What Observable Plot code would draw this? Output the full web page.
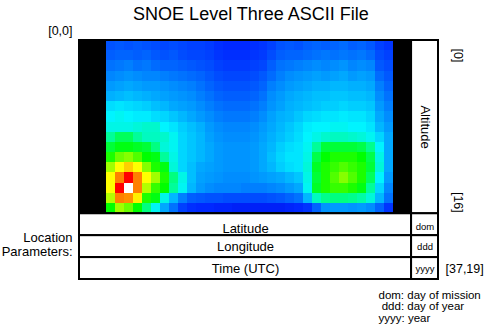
<!DOCTYPE html>
<html><head><meta charset="utf-8">
<script src="https://cdn.jsdelivr.net/npm/d3@7"></script>
<script src="https://cdn.jsdelivr.net/npm/@observablehq/plot@0.6"></script>
<style>body{margin:0;background:#fff}</style>
</head><body><div id="chart"></div>
<script>
const title = "SNOE Level Three ASCII File";
// NO density (arbitrary colour index 0-10), rows = altitude [0]..[16], columns = latitude bins
const density = [
[1.7,1.8,1.7,1.8,1.7,1.6,1.5,1.6,1.5,1.4,1.4,1.3,1.1,1.0,1.0,1.0,1.1,1.2,1.4,1.7,1.8,1.7,1.9,2.0,1.9,2.0,2.1,1.9,2.0,1.8,1.4,1.2],
[1.9,2.0,2.0,1.9,2.0,1.8,1.7,1.8,1.6,1.5,1.5,1.4,1.2,1.1,1.1,1.1,1.2,1.3,1.6,1.9,2.0,2.0,2.1,2.2,2.3,2.2,2.3,2.2,2.3,2.1,1.6,1.4],
[2.2,2.3,2.4,2.2,2.3,2.1,2.0,2.0,1.9,1.8,1.7,1.6,1.4,1.3,1.3,1.3,1.4,1.5,1.9,2.2,2.3,2.4,2.5,2.6,2.5,2.6,2.7,2.5,2.6,2.5,1.8,1.6],
[2.5,2.6,2.7,2.6,2.5,2.5,2.4,2.3,2.2,2.1,2.0,1.8,1.6,1.5,1.5,1.5,1.6,1.8,2.1,2.4,2.6,2.7,2.8,2.9,2.8,2.9,3.0,2.8,2.9,2.8,2.1,1.8],
[2.8,2.9,3.0,2.9,2.8,2.8,2.7,2.6,2.5,2.4,2.2,2.0,1.8,1.7,1.7,1.7,1.8,2.0,2.4,2.6,2.8,2.9,3.0,3.1,3.1,3.2,3.2,3.1,3.1,3.0,2.4,2.0],
[3.1,3.2,3.3,3.2,3.1,3.0,2.9,2.8,2.7,2.6,2.4,2.2,2.0,1.9,1.9,1.9,2.0,2.2,2.6,2.8,3.0,3.1,3.2,3.3,3.3,3.4,3.4,3.3,3.3,3.2,2.6,2.2],
[3.7,3.8,3.7,3.6,3.5,3.3,3.2,3.0,2.9,2.8,2.6,2.4,2.2,2.1,2.1,2.1,2.2,2.4,2.7,2.9,3.1,3.2,3.3,3.4,3.5,3.5,3.6,3.5,3.5,3.4,2.8,2.4],
[4.0,4.1,4.0,3.9,3.9,3.7,3.6,3.4,3.2,3.0,2.8,2.6,2.4,2.3,2.3,2.3,2.4,2.6,2.9,3.1,3.2,3.4,3.6,3.7,3.8,3.8,3.9,3.8,3.8,3.6,3.0,2.6],
[4.2,4.2,4.2,4.3,4.4,4.4,4.0,3.8,3.5,3.3,3.1,2.8,2.6,2.5,2.5,2.5,2.6,2.8,3.0,3.2,3.4,3.6,3.9,4.0,4.0,4.1,4.1,4.0,4.0,3.8,3.2,2.8],
[4.8,5.2,5.2,4.8,4.5,4.5,4.4,4.1,3.6,3.4,3.2,2.9,2.7,2.6,2.6,2.6,2.7,2.9,3.1,3.3,3.5,3.7,4.0,4.2,4.4,4.5,4.5,4.4,4.3,4.1,3.6,3.0],
[5.4,5.6,5.6,5.5,5.4,5.0,4.3,4.1,3.6,3.4,3.2,3.0,2.8,2.7,2.7,2.7,2.8,3.0,3.2,3.5,3.7,3.8,4.1,4.8,5.4,5.4,5.4,5.4,5.3,4.9,4.0,3.0],
[5.8,6.1,6.2,6.0,5.7,5.6,4.8,4.2,3.6,3.4,3.2,3.0,2.8,2.7,2.7,2.7,2.8,3.0,3.3,3.6,3.8,3.8,4.2,5.3,5.7,5.8,5.8,5.8,5.7,5.3,4.2,3.0],
[6.3,6.8,7.1,6.8,6.2,5.8,5.6,4.3,3.6,3.3,3.0,2.9,2.8,2.7,2.7,2.7,2.8,3.0,3.2,3.5,3.7,3.8,4.3,5.5,5.8,5.9,6.0,5.9,5.8,5.4,4.3,3.0],
[6.8,7.6,8.6,7.6,6.8,6.3,5.8,5.0,4.2,3.3,2.9,2.8,2.7,2.6,2.6,2.6,2.7,2.8,2.9,3.0,3.2,3.4,4.2,5.4,5.8,6.0,6.2,6.0,5.8,5.2,4.0,2.8],
[6.8,8.6,10,7.6,6.4,5.9,5.7,4.8,4.1,3.2,2.8,2.6,2.5,2.5,2.5,2.4,2.4,2.4,2.5,2.6,2.8,3.0,4.1,5.5,5.8,5.9,5.9,5.8,5.6,4.8,3.6,2.5],
[6.4,7.6,7.5,6.9,5.8,5.6,4.2,3.2,2.4,1.9,1.8,1.7,1.7,1.6,1.6,1.6,1.6,1.6,1.7,1.8,2.0,2.2,3.2,4.5,4.9,5.0,5.0,4.9,4.7,4.3,3.2,2.2],
[5.7,6.3,6.1,5.7,5.0,4.1,3.0,2.2,1.4,1.1,1.0,1.0,0.9,0.9,0.8,0.8,0.8,0.8,0.8,0.8,0.9,1.0,1.2,2.0,2.7,2.8,2.8,2.7,2.8,2.6,2.0,1.2]
];
const missingLeft = 3;   // fill (no data) latitude columns, drawn black
const missingRight = 2;
const locationParams = ["Latitude", "Longitude", "Time (UTC)"];
const locationCodes = ["dom", "ddd", "yyyy"];
const legendLines = ["dom: day of mission", "\u00a0ddd: day of year", "yyyy: year"];
const cornerLabels = ["[0,0]", "[37,19]"];
const altitudeTicks = ["[0]", "[16]"];
const sideLabel = "Altitude";
const locationLabel = "Location\nParameters:";
const colorStops = [0, 1, 2, 3, 4, 5, 5.7, 6.3, 6.8, 7.6, 8.5, 9.3, 9.31, 10];
const colorRange = ["#0000d8","#0028ff","#0064ff","#00a8ff","#00f4ff","#00ff80","#00ff00","#a0ff00","#ffff00","#ff8000","#ff0000","#ff0000","#ffffff","#ffffff"];

const nRows = density.length;
const nData = density[0].length;
const nCols = missingLeft + nData + missingRight;
const boxCols = 3;
const rowH = 2.15;

const cells = [];
density.forEach((row, r) => row.forEach((v, i) => cells.push({c: missingLeft + i, r, v})));
const missing = [];
for (let r = 0; r < nRows; r++) {
  for (let c = 0; c < missingLeft; c++) missing.push({c, r});
  for (let c = missingLeft + nData; c < nCols; c++) missing.push({c, r});
}
const lower = locationParams.map((name, i) => ({name, code: locationCodes[i], y1: nRows + i * rowH, y2: nRows + (i + 1) * rowH}));
const mid = d => (d.y1 + d.y2) / 2;
const font = "Liberation Sans, Arial, Helvetica, sans-serif";

const chart = Plot.plot({
  width: 486, height: 326,
  marginLeft: 79, marginRight: 48, marginTop: 40, marginBottom: 47,
  x: {domain: [0, nCols + boxCols], axis: null},
  y: {domain: [0, nRows + 3 * rowH], axis: null, reverse: true},
  color: {type: "linear", domain: colorStops, range: colorRange, interpolate: "rgb"},
  style: {fontFamily: font, background: "white", color: "black"},
  marks: [
    Plot.rect(cells, {x1: "c", x2: d => d.c + 1, y1: "r", y2: d => d.r + 1, fill: "v", shapeRendering: "crispEdges"}),
    Plot.rect(missing, {x1: "c", x2: d => d.c + 1, y1: "r", y2: d => d.r + 1, fill: "black", shapeRendering: "crispEdges"}),
    Plot.rect([0], {x1: 0, x2: nCols, y1: 0, y2: nRows, fill: "none", stroke: "black", strokeWidth: 2}),
    Plot.rect([0], {x1: nCols, x2: nCols + boxCols, y1: 0, y2: nRows, fill: "white", stroke: "black", strokeWidth: 2}),
    Plot.rect(lower, {x1: 0, x2: nCols, y1: "y1", y2: "y2", fill: "white", stroke: "black", strokeWidth: 2}),
    Plot.rect(lower, {x1: nCols, x2: nCols + boxCols, y1: "y1", y2: "y2", fill: "white", stroke: "black", strokeWidth: 2}),
    Plot.text([title], {frameAnchor: "top", text: d => d, dx: -8, dy: -21, lineAnchor: "bottom", fontSize: 18}),
    Plot.text([cornerLabels[0]], {x: 0, y: 0, text: d => d, textAnchor: "end", lineAnchor: "bottom", dx: -7, dy: -6, fontSize: 12.5}),
    Plot.text([cornerLabels[1]], {x: nCols + boxCols, y: nRows + 2.5 * rowH, text: d => d, textAnchor: "start", lineAnchor: "middle", dx: 7, fontSize: 12.5}),
    Plot.text([altitudeTicks[0]], {x: nCols + boxCols, y: 0, text: d => d, rotate: 90, textAnchor: "start", lineAnchor: "middle", dx: 19, dy: 8, fontSize: 12.5}),
    Plot.text([altitudeTicks[1]], {x: nCols + boxCols, y: nRows, text: d => d, rotate: 90, textAnchor: "end", lineAnchor: "middle", dx: 19, dy: -1, fontSize: 12.5}),
    Plot.text([sideLabel], {x: nCols + boxCols / 2, y: nRows / 2, text: d => d, rotate: 90, textAnchor: "middle", lineAnchor: "middle", fontSize: 13}),
    Plot.text(lower.slice(0, 1), {x: nCols / 2, y: mid, text: "name", lineAnchor: "middle", dy: 4, fontSize: 13}),
    Plot.text(lower.slice(1), {x: nCols / 2, y: mid, text: "name", lineAnchor: "middle", fontSize: 13}),
    Plot.text(lower.slice(0, 1), {x: nCols + boxCols / 2, y: mid, text: "code", lineAnchor: "middle", dy: 2, fontSize: 9.5}),
    Plot.text(lower.slice(1), {x: nCols + boxCols / 2, y: mid, text: "code", lineAnchor: "middle", fontSize: 9.5}),
    Plot.text([locationLabel], {x: 0, y: nRows + 1.5 * rowH, text: d => d, textAnchor: "end", lineAnchor: "middle", dx: -7, dy: -2, fontSize: 13, lineHeight: 1.08}),
    Plot.text([legendLines.join("\n")], {frameAnchor: "bottom-right", text: d => d, textAnchor: "start", lineAnchor: "top", dx: -60, dy: 11, fontSize: 11.5, lineHeight: 1.0})
  ]
});
document.getElementById("chart").append(chart);
</script>
</body></html>
